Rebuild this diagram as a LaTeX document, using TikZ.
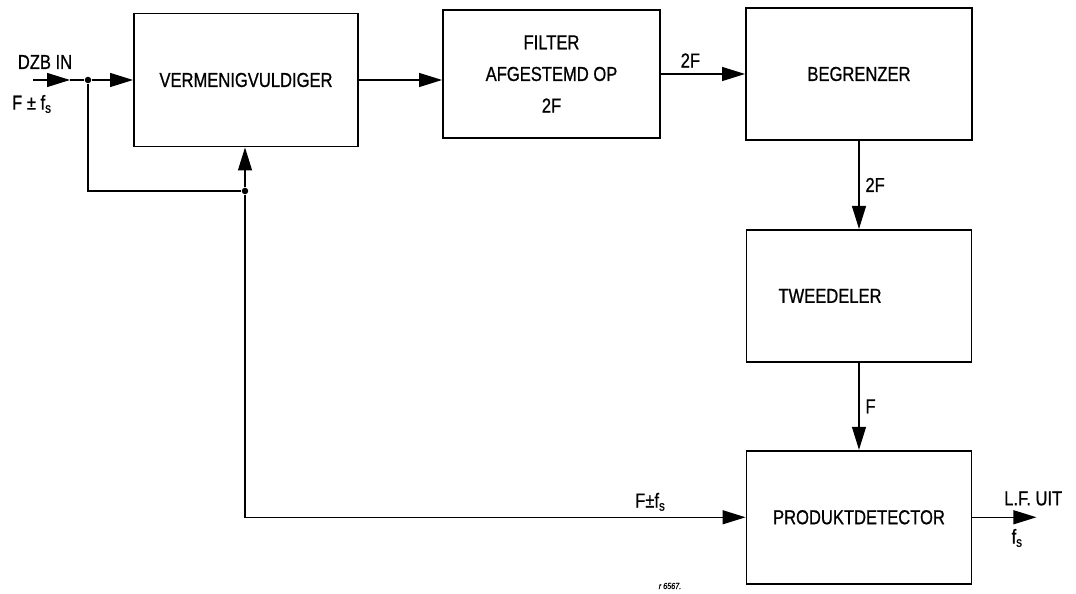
\documentclass[tikz,border=0pt]{standalone}
\usepackage{fontspec}
\setmainfont{Liberation Sans}[FakeStretch=0.82, FakeBold=0.8]
\usetikzlibrary{arrows.meta, positioning}

\newcommand{\blokfont}{\fontsize{11.5}{18}\selectfont}

\begin{document}
\begin{tikzpicture}[
    x=0.02cm, y=-0.02cm,
    node distance=1.75cm,
    blok/.style={draw, line width=1.1pt, minimum height=2.66cm, font=\blokfont, align=center},
    wire/.style={line width=0.7pt},
    sig/.style={wire, -{Triangle[length=0.46cm, width=0.28cm]}},
    junction/.style={circle, fill, inner sep=0pt, minimum size=0.13cm},
    lbl/.style={font=\blokfont},
]

\useasboundingbox (0,0) rectangle (1076,594);

% ===== Blocks =====
\node[blok, minimum width=4.48cm] (mult) at (246,80) {VERMENIGVULDIGER};
\node[blok, minimum width=4.34cm, minimum height=2.56cm] (filt) at (551.5,74)
  {FILTER\\AFGESTEMD OP\\2F};
\node[blok, minimum width=4.52cm, minimum height=2.64cm] (begr) at (859,74) {BEGRENZER};
\node[blok, minimum width=4.5cm, minimum height=2.64cm, below=1.76cm of begr] (twee)
  {TWEEDELER\hspace*{1.16cm}};
\node[blok, minimum width=4.5cm, below=1.74cm of twee] (prod) {PRODUKTDETECTOR};

% ===== Input and feedback =====
\coordinate (inStart) at (33,80);
\coordinate (inTip) at (70,80);
\node[junction] (split) at (88,80) {};
\node[junction] (tap) at (245,191) {};
\node[lbl] (dzb) at (45,62) {DZB IN};
\node[lbl] (finp) at (32,104) {F ± f\textsubscript{s}};

\draw[sig] (inStart) -- (inTip);
\draw[wire] (inTip) -- (split);
\draw[sig] (split) -- (split -| mult.west);
\draw[wire] (split) |- (tap);
\draw[sig] (tap) -- (tap |- mult.south);
\draw[sig] (tap) |- (prod.west)
  node[pos=0.905, above, lbl] {F±f\textsubscript{s}};

% ===== Main chain =====
\draw[sig] (mult.east) -- (mult.east -| filt.west);
\draw[sig] (filt) -- (begr)
  node[pos=0.35, above, lbl] {2F};
\draw[sig] (begr) -- (twee)
  node[midway, right, lbl] {2F};
\draw[sig] (twee) -- (prod)
  node[midway, right, lbl] {F};

% ===== Output =====
\coordinate[right=1.28cm of prod.east] (out);
\draw[sig] (prod.east) -- (out)
  node[pos=0.95, above, lbl, yshift=3pt] {L.F. UIT}
  node[pos=0.7, below, lbl, yshift=-3pt] {f\textsubscript{s}};

\node[font=\tiny\itshape] (fignr) at (670,586) {r 6567.};

\end{tikzpicture}
\end{document}
